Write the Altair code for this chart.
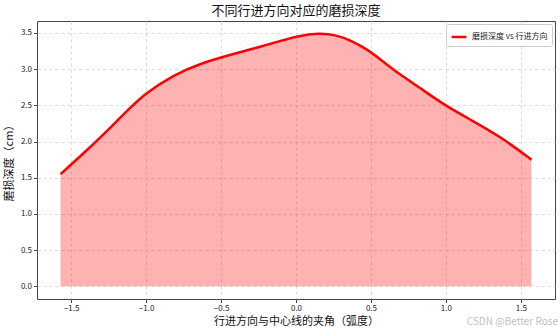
import altair as alt
import pandas as pd

# Data
angle = [-1.571, -1.416, -1.283, -1.149, -1.005, -0.816, -0.638, -0.416, -0.238,
         -0.105, 0.007, 0.151, 0.273, 0.362, 0.473, 0.584, 0.684, 0.829, 0.984,
         1.184, 1.362, 1.571]
depth = [1.55, 1.84, 2.10, 2.38, 2.67, 2.92, 3.08, 3.21, 3.31,
         3.39, 3.455, 3.50, 3.47, 3.40, 3.28, 3.10, 2.94, 2.74, 2.51,
         2.28, 2.07, 1.75]
series_name = "磨损深度 vs 行进方向"
x_ticks = [-1.5, -1.0, -0.5, 0.0, 0.5, 1.0, 1.5]
y_ticks = [0.0, 0.5, 1.0, 1.5, 2.0, 2.5, 3.0, 3.5]

title_text = "不同行进方向对应的磨损深度"
x_title = "行进方向与中心线的夹角（弧度）"
y_title = "磨损深度（cm）"
watermark = "CSDN @Better Rose"

df = pd.DataFrame({"angle": angle, "depth": depth, "series": series_name})

FONT = "Noto Sans CJK SC"
INTERP = "basis"

x_enc = alt.X("angle:Q",
              scale=alt.Scale(domain=[-1.728, 1.728], nice=False, zero=False),
              axis=alt.Axis(values=x_ticks, format=".1f", title=x_title))
y_enc = alt.Y("depth:Q",
              scale=alt.Scale(domain=[-0.1745, 3.665], nice=False, zero=False),
              axis=alt.Axis(values=y_ticks, format=".1f", title=y_title))

area = alt.Chart(df).mark_area(color="#ff0000", opacity=0.3, interpolate=INTERP).encode(
    x=x_enc, y=y_enc, y2=alt.datum(0)
)

line = alt.Chart(df).mark_line(strokeWidth=2.5, interpolate=INTERP).encode(
    x=x_enc, y=y_enc,
    color=alt.Color("series:N", scale=alt.Scale(range=["#ff0000"]),
                    legend=alt.Legend(title=None, orient="top-right", offset=3,
                                      strokeColor="#cccccc", fillColor="white",
                                      padding=4, cornerRadius=2,
                                      symbolType="stroke", symbolStrokeWidth=2.5,
                                      symbolSize=220, labelFontSize=8,
                                      labelFont=FONT, labelColor="#222222"))
)

wm = alt.Chart(pd.DataFrame({"t": [watermark]})).mark_text(
    align="right", baseline="middle", fontSize=10, color="#c0c0c0", font=FONT
).encode(x=alt.value(521), y=alt.value(301), text="t:N")

chart = alt.layer(area, line, wm).properties(
    width=518, height=278,
    title=alt.TitleParams(title_text, fontSize=13, fontWeight="normal", font=FONT,
                          anchor="middle", offset=3, color="#111111"),
    padding={"left": 37, "top": 21, "right": 5, "bottom": 34},
    autosize=alt.AutoSizeParams(type="none"),
).configure_view(
    stroke="#444444", strokeWidth=1
).configure_axis(
    grid=True, gridColor="#d4d4d4", gridDash=[3, 3], gridOpacity=0.85,
    domain=False, tickColor="#444444", tickSize=3.5,
    labelFont=FONT, labelFontSize=8, labelColor="#222222",
    titleFont=FONT, titleFontSize=11, titleFontWeight="normal", titleColor="#111111",
).configure_axisX(
    labelPadding=2, titlePadding=3
).configure_axisY(
    labelPadding=2, titlePadding=6
)

chart.save("out.html", embed_options={"renderer": "svg", "actions": False})
